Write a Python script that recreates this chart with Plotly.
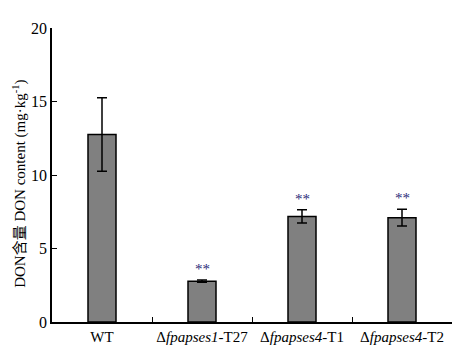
import plotly.graph_objects as go

categories = ["WT", "Δ<i>fpapses1</i>-T27", "Δ<i>fpapses4</i>-T1", "Δ<i>fpapses4</i>-T2"]
values = [12.75, 2.78, 7.18, 7.1]
errors = [2.5, 0.08, 0.45, 0.57]
signif = ["", "**", "**", "**"]
y_ticks = [0, 5, 10, 15, 20]
y_title = "DON含量 DON content (mg·kg<sup>-1</sup>)"

fig = go.Figure()
fig.add_trace(go.Bar(
    x=categories, y=values, width=0.28,
    marker=dict(color="#808080", line=dict(color="black", width=1.5)),
    error_y=dict(type="data", array=errors, visible=True, color="black",
                 thickness=1.5, width=5),
))

for c, v, e, s in zip(categories, values, errors, signif):
    if s:
        fig.add_annotation(x=c, y=v + e, text=s, showarrow=False, yshift=11,
                           font=dict(family="Liberation Serif", size=15, color="#2a2a78"))

fig.add_annotation(xref="paper", yref="paper", x=-0.08, y=0.47, text=y_title,
                   textangle=-90, showarrow=False, xanchor="center", yanchor="middle",
                   font=dict(family="Liberation Serif, Noto Sans CJK SC", size=15, color="black"))

# page body has an 8px default margin, so the figure is offset by 8px
fig.update_layout(
    width=455, height=341,
    margin=dict(l=44, r=11, t=20, b=27, autoexpand=False),
    plot_bgcolor="white", paper_bgcolor="white",
    showlegend=False,
    font=dict(family="Liberation Serif, Noto Sans CJK SC", size=15, color="black"),
    xaxis=dict(showline=True, linecolor="black", linewidth=1.5, ticks="inside",
               tickson="boundaries", ticklen=5, tickcolor="black", tickwidth=1,
               showgrid=False, tickfont=dict(size=15), tickangle=0, automargin=False),
    yaxis=dict(range=[0, 20], tickvals=y_ticks, showline=True, linecolor="black",
               linewidth=1.5, ticks="inside", ticklen=5, tickcolor="black",
               showgrid=False, zeroline=False, tickfont=dict(size=16), automargin=False),
)

fig.write_html("out.html")
